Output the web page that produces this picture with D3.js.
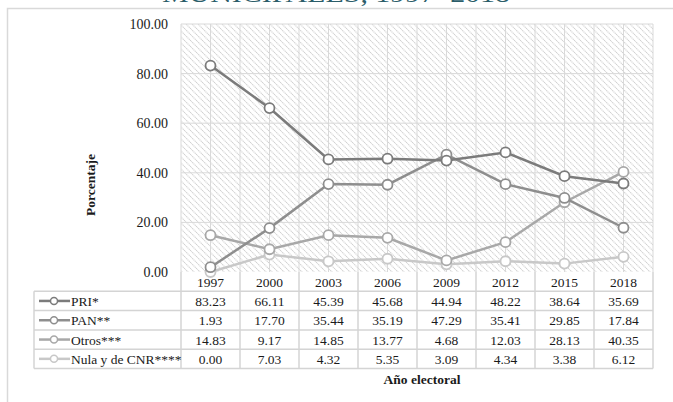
<!DOCTYPE html>
<meta charset="utf-8">
<script src="https://d3js.org/d3.v7.min.js"></script>
<style>
    body { margin: 0; background: #fff; }
    svg text { font-family: "Liberation Serif", "Times New Roman", serif; }
</style>
<div id="chart"></div>
<script>
    // chart data
    var years = ["1997", "2000", "2003", "2006", "2009", "2012", "2015", "2018"];
    var seriesNames = ["PRI*", "PAN**", "Otros***", "Nula y de CNR****"];
    var pri = [83.23, 66.11, 45.39, 45.68, 44.94, 48.22, 38.64, 35.69];
    var pan = [1.93, 17.70, 35.44, 35.19, 47.29, 35.41, 29.85, 17.84];
    var otros = [14.83, 9.17, 14.85, 13.77, 4.68, 12.03, 28.13, 40.35];
    var nula = [0.00, 7.03, 4.32, 5.35, 3.09, 4.34, 3.38, 6.12];
    var yTicks = [0, 20, 40, 60, 80, 100];

    var seriesValues = [pri, pan, otros, nula];
    var seriesColors = ["#7b7b7b", "#8e8e8e", "#a8a8a8", "#c8c8c8"];

    var W = 673, H = 402;
    var plotL = 181, plotR = 653, plotT = 24, plotB = 272;
    var rowH = 19.3;
    var txtColor = "#1a1a1a";

    var svg = d3.select("#chart").append("svg")
        .attr("width", W).attr("height", H);

    // hatch pattern for plot area
    var defs = svg.append("defs");
    var pat = defs.append("pattern")
        .attr("id", "hatch")
        .attr("patternUnits", "userSpaceOnUse")
        .attr("width", 6).attr("height", 6);
    pat.append("rect").attr("width", 6).attr("height", 6).attr("fill", "#fff");
    pat.append("path")
        .attr("d", "M-1,-1 L7,7 M-1,5 L1,7 M5,-1 L7,1")
        .attr("stroke", "#cfcfcf")
        .attr("stroke-width", 1.1)
        .attr("stroke-dasharray", "1.2,0.6");

    // title (cut off at top)
    svg.append("text")
        .attr("x", 336).attr("y", 2)
        .attr("text-anchor", "middle")
        .attr("font-size", 24)
        .attr("fill", "#2b5d69")
        .attr("textLength", 348)
        .attr("lengthAdjust", "spacingAndGlyphs")
        .text("MUNICIPALES, 1997–2018");

    // outer frame
    svg.append("path")
        .attr("d", "M7.5," + H + " L7.5,8.5 L" + W + ",8.5")
        .attr("fill", "none")
        .attr("stroke", "#d9d9d9")
        .attr("stroke-width", 1.5);

    var x = d3.scaleBand().domain(years).range([plotL, plotR]);
    var y = d3.scaleLinear().domain([0, 100]).range([plotB, plotT]);
    var cx = d => x(d) + x.bandwidth() / 2;

    // plot background
    svg.append("rect")
        .attr("x", plotL).attr("y", plotT)
        .attr("width", plotR - plotL).attr("height", plotB - plotT)
        .attr("fill", "url(#hatch)");

    // gridlines
    svg.selectAll(".hgrid")
        .data(yTicks.filter(d => d > 0))
        .enter().append("line")
        .attr("x1", plotL).attr("x2", plotR)
        .attr("y1", d => y(d)).attr("y2", d => y(d))
        .attr("stroke", "#d9d9d9").attr("stroke-width", 1);

    var vlines = [];
    years.forEach(yr => { vlines.push(x(yr)); vlines.push(cx(yr)); });
    vlines.push(plotR);
    svg.selectAll(".vgrid")
        .data(vlines)
        .enter().append("line")
        .attr("x1", d => d).attr("x2", d => d)
        .attr("y1", plotT).attr("y2", plotB)
        .attr("stroke", "#d9d9d9").attr("stroke-width", 1);

    // y tick labels
    svg.selectAll(".ytick")
        .data(yTicks)
        .enter().append("text")
        .attr("x", 168)
        .attr("y", d => y(d) + 5)
        .attr("text-anchor", "end")
        .attr("font-size", 14)
        .attr("fill", txtColor)
        .text(d => d3.format(".2f")(d));

    // lines + markers
    var line = d3.line()
        .x((d, i) => cx(years[i]))
        .y(d => y(d));

    // draw lightest first so PRI on top
    [3, 2, 1, 0].forEach(function (s) {
        svg.append("path")
            .datum(seriesValues[s])
            .attr("d", line)
            .attr("fill", "none")
            .attr("stroke", seriesColors[s])
            .attr("stroke-width", 2.5);
        svg.selectAll(".m" + s)
            .data(seriesValues[s])
            .enter().append("circle")
            .attr("cx", (d, i) => cx(years[i]))
            .attr("cy", d => y(d))
            .attr("r", 5)
            .attr("fill", "#fff")
            .attr("stroke", seriesColors[s])
            .attr("stroke-width", 1.8);
    });

    // data table
    var tableTop = plotB;
    var gridColor = "#d4d4d4";
    var tbl = svg.append("g");

    // header row of years
    tbl.selectAll(".yr")
        .data(years)
        .enter().append("text")
        .attr("x", d => cx(d))
        .attr("y", tableTop + rowH / 2 + 5)
        .attr("text-anchor", "middle")
        .attr("font-size", 13.5)
        .attr("fill", txtColor)
        .text(d => d);

    // horizontal table lines
    var hl = [];
    for (var r = 1; r <= 5; r++) hl.push(tableTop + r * rowH);
    tbl.selectAll(".thl")
        .data(hl)
        .enter().append("line")
        .attr("x1", 34).attr("x2", plotR)
        .attr("y1", d => d).attr("y2", d => d)
        .attr("stroke", gridColor).attr("stroke-width", 1.5);

    // vertical table lines
    var tv = years.map(d => x(d)).concat([plotR]);
    tbl.selectAll(".tvl")
        .data(tv)
        .enter().append("line")
        .attr("x1", d => d).attr("x2", d => d)
        .attr("y1", tableTop).attr("y2", tableTop + 5 * rowH)
        .attr("stroke", gridColor).attr("stroke-width", 1.5);
    tbl.append("line")
        .attr("x1", 34).attr("x2", 34)
        .attr("y1", tableTop + rowH).attr("y2", tableTop + 5 * rowH)
        .attr("stroke", gridColor).attr("stroke-width", 1.5);

    // rows
    seriesNames.forEach(function (name, s) {
        var ry = tableTop + (s + 1) * rowH + rowH / 2;
        tbl.append("line")
            .attr("x1", 39).attr("x2", 70)
            .attr("y1", ry).attr("y2", ry)
            .attr("stroke", seriesColors[s]).attr("stroke-width", 2.5);
        tbl.append("circle")
            .attr("cx", 54).attr("cy", ry).attr("r", 3.5)
            .attr("fill", "#fff")
            .attr("stroke", seriesColors[s]).attr("stroke-width", 1.5);
        tbl.append("text")
            .attr("x", 71).attr("y", ry + 5)
            .attr("font-size", 13.5)
            .attr("fill", txtColor)
            .text(name);
        tbl.selectAll(".v" + s)
            .data(seriesValues[s])
            .enter().append("text")
            .attr("x", (d, i) => cx(years[i]))
            .attr("y", ry + 5)
            .attr("text-anchor", "middle")
            .attr("font-size", 13.5)
            .attr("fill", txtColor)
            .text(d => d3.format(".2f")(d));
    });

    // axis titles
    svg.append("text")
        .attr("transform", "translate(95,185) rotate(-90)")
        .attr("text-anchor", "middle")
        .attr("font-size", 13.5)
        .attr("font-weight", "bold")
        .attr("fill", txtColor)
        .text("Porcentaje");

    svg.append("text")
        .attr("x", 422).attr("y", 384)
        .attr("text-anchor", "middle")
        .attr("font-size", 13.5)
        .attr("font-weight", "bold")
        .attr("fill", txtColor)
        .text("Año electoral");
</script>
